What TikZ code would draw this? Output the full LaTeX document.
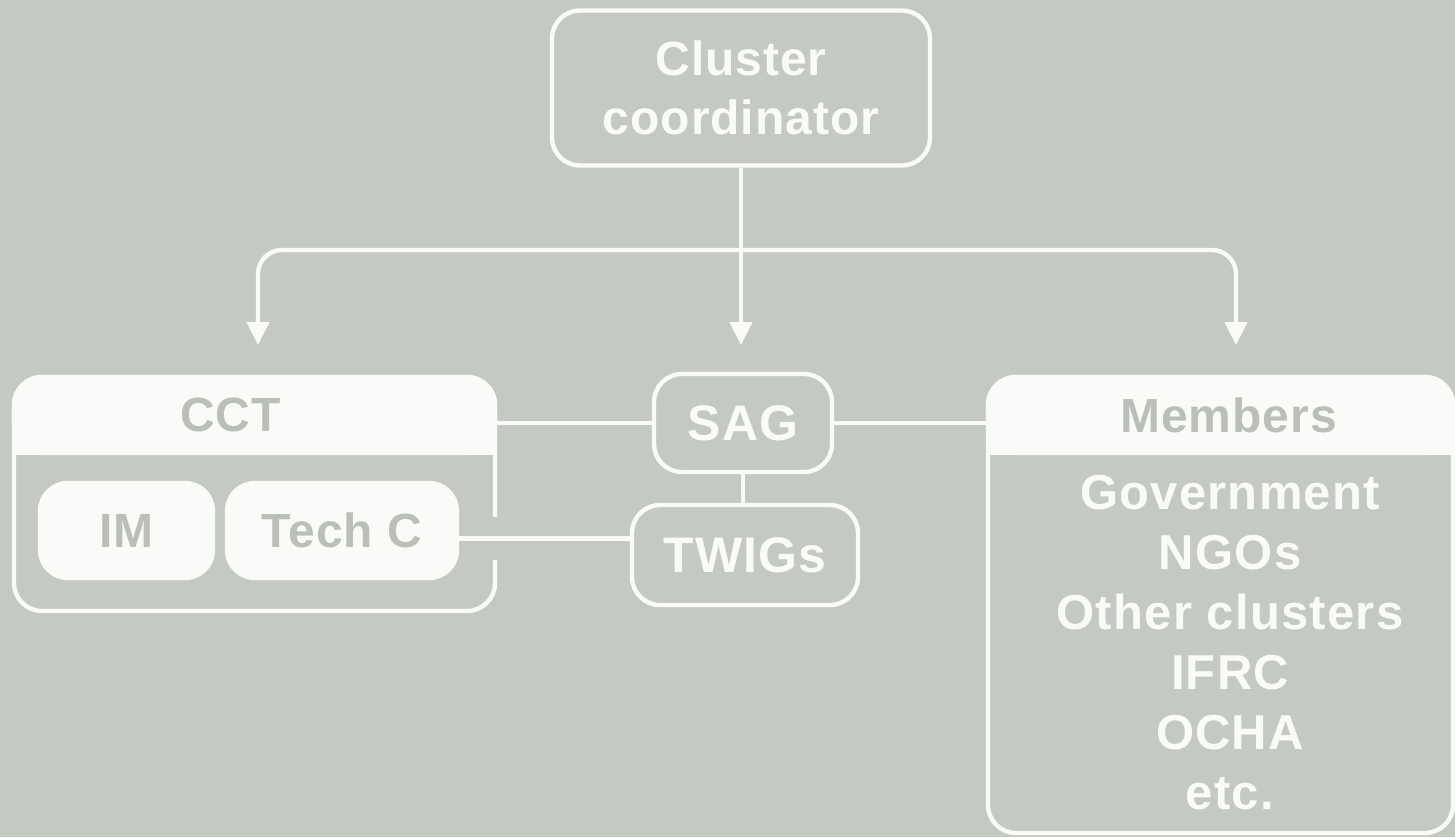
\documentclass[tikz,border=0pt]{standalone}
\usepackage{fontspec}
\setmainfont{Liberation Sans}[LetterSpace=2]
\usetikzlibrary{arrows.meta}

\definecolor{bg}{RGB}{196,202,193}
\definecolor{fg}{RGB}{250,251,248}
\definecolor{dim}{RGB}{186,192,183}

\begin{document}
\begin{tikzpicture}[x=0.5pt,y=-0.5pt,
  font=\bfseries\fontsize{24}{29.5}\selectfont,
  box/.style={draw=fg,line width=2.2pt,rounded corners=14pt,text=fg,inner sep=0pt,align=center},
  pill/.style={fill=fg,draw=fg,line width=2.2pt,rounded corners=14pt,text=dim,inner sep=0pt},
  link/.style={draw=fg,line width=2.2pt},
  arr/.style={link,-{Triangle[width=11pt,length=11.5pt]}}]

\useasboundingbox[fill=bg] (0,0) rectangle (1455,837);

\node[box,minimum width=189pt,minimum height=77.5pt] (coord) at (741,88) {Cluster\\coordinator};

\coordinate (split) at (741,250);
\coordinate (tipl) at (258,345);
\coordinate (tipm) at (741,345);
\coordinate (tipr) at (1236,345);

\node[box,minimum width=89pt,minimum height=49pt,font=\bfseries\fontsize{25}{30}\selectfont] (sag) at (743,423) {SAG};

\node[box,minimum width=113pt,minimum height=50pt,font=\bfseries\fontsize{25}{30}\selectfont] (twigs) at (745,555) {TWIGs};

\node[box,minimum width=240.5pt,minimum height=117pt] (cct) at (254.5,494) {};
\node[pill,minimum width=240.5pt,minimum height=38pt,anchor=north] (ccthead) at (cct.north) {};
\fill[fg] (ccthead.west) rectangle (ccthead.south east);
\node[text=dim] (ccttitle) at ([xshift=-12pt]ccthead) {CCT};

\node[pill,minimum width=86.5pt,minimum height=47.5pt] (im) at (126.5,530.5) {IM};
\node[pill,minimum width=115pt,minimum height=47.5pt] (techc) at (342,530.5) {Tech C};

\node[box,minimum width=232.5pt,minimum height=228pt] (members) at (1220.5,605) {};
\node[pill,minimum width=232.5pt,minimum height=38pt,anchor=north] (memhead) at (members.north) {};
\fill[fg] (memhead.west) rectangle (memhead.south east);
\node[text=dim] (memtitle) at ([xshift=4pt]memhead) {Members};

\node[text=fg,align=center,font=\bfseries\fontsize{24.5}{30}\selectfont\addfontfeature{LetterSpace=2.5}] (memlist) at (1230,643)
  {Government\\NGOs\\Other clusters\\IFRC\\OCHA\\etc.};

\draw[arr] (coord) -- (tipm);
\draw[arr,rounded corners=12pt] (split) -| (tipl);
\draw[arr,rounded corners=12pt] (split) -| (tipr);

\draw[link] (sag.west) -- (sag.west -| cct.east);
\draw[link] (sag.east) -- (sag.east -| members.west);
\draw[link] (sag) -- (sag |- twigs.north);
\draw[link,preaction={draw=bg,line width=21.5pt,shorten <=3pt,shorten >=50pt}]
  ([yshift=-4pt]techc.east) -- ([yshift=-4pt]techc.east -| twigs.west);

\end{tikzpicture}
\end{document}
